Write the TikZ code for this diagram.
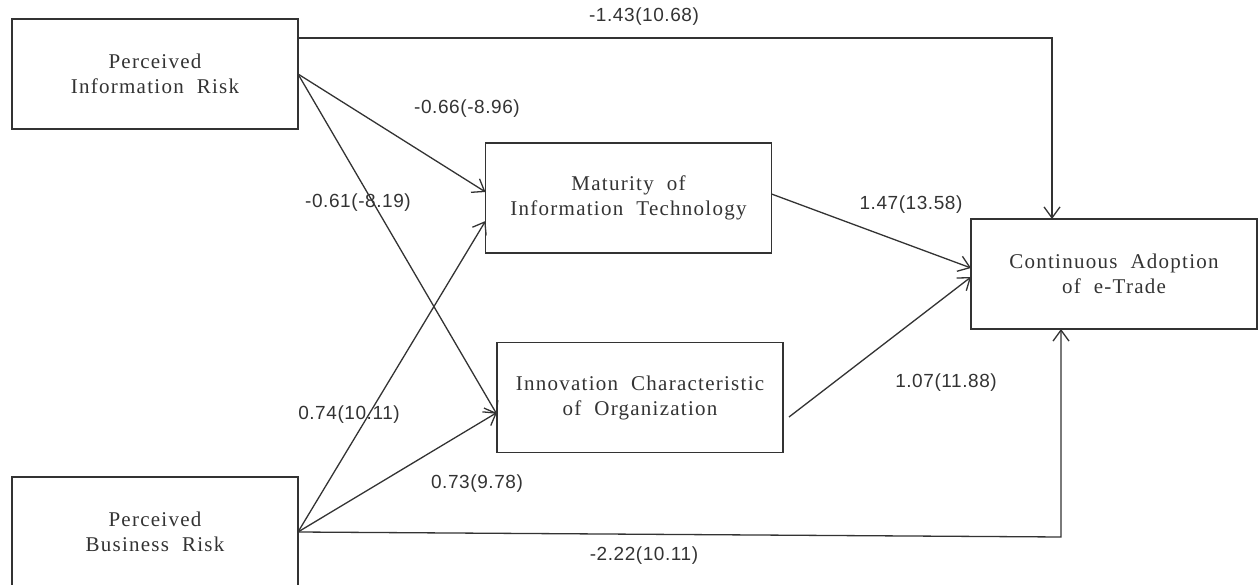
\documentclass[tikz,border=0pt]{standalone}
\usepackage{fontspec}
\setmainfont{Liberation Serif}[WordSpace=2]
\newfontfamily\coeffont{Liberation Sans}
\usetikzlibrary{arrows.meta}

\begin{document}
\begin{tikzpicture}[x=1pt, y=-1pt, line width=1.3pt, color=black!80,
                    link/.style={-{Straight Barb[length=11pt,width=16pt]}},
                    coef/.style={font=\coeffont\fontsize{19}{22}\selectfont\addfontfeature{LetterSpace=3}, inner sep=0pt},
                    main node/.style={rectangle,draw,line width=1.6pt,inner sep=0pt,outer sep=0pt,minimum width=286pt,minimum height=110pt,align=center,
                                      font=\fontsize{21}{25}\selectfont\addfontfeature{LetterSpace=6}}]

  \useasboundingbox (0,0) rectangle (1258,585);

  \node[main node] (1) at (155,74) {Perceived\\Information Risk};
  \node[main node] (2) at (155,532) {Perceived\\Business Risk};
  \node[main node] (3) at (628.5,198) {Maturity of\\Information Technology};
  \node[main node] (4) at (640,397.5) {Innovation Characteristic\\of Organization};
  \node[main node] (5) at (1114,274) {Continuous Adoption\\of e-Trade};

  \coordinate (c) at (1061,537);

  \path[link]
    (1.east) edge ([yshift=6pt]3.west)
             edge ([yshift=-17pt]4.west)
    (2.east) edge ([yshift=-23pt]3.west)
             edge ([yshift=-15pt]4.west)
    ([yshift=4pt]3.east) edge ([yshift=6pt]5.west)
    ([xshift=6pt,yshift=-19.5pt]4.east) edge ([yshift=-3pt]5.west);

  \draw[link] ([yshift=36pt]1.east) -| ([xshift=-62pt]5.north);
  \draw[link] (2.east) -- (c) -- ([xshift=-53pt]5.south);

  \node[coef] (l1) at (644,17) {-1.43(10.68)};
  \node[coef] (l2) at (467,109) {-0.66(-8.96)};
  \node[coef] (l3) at (358,203) {-0.61(-8.19)};
  \node[coef] (l4) at (349,415) {0.74(10.11)};
  \node[coef] (l5) at (477,484) {0.73(9.78)};
  \node[coef] (l6) at (911,205) {1.47(13.58)};
  \node[coef] (l7) at (946,383) {1.07(11.88)};
  \node[coef] (l8) at (644,556) {-2.22(10.11)};

\end{tikzpicture}
\end{document}
